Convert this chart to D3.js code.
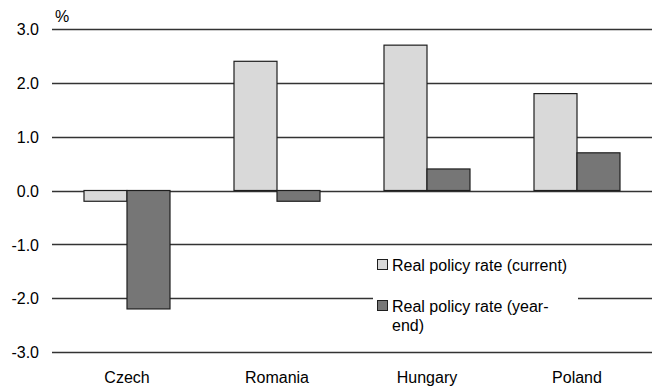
<!DOCTYPE html>
<html>
<head>
<meta charset="utf-8">
<script src="https://cdn.jsdelivr.net/npm/d3@7"></script>
<style>
  html, body { margin: 0; padding: 0; background: #fff; }
  svg { display: block; font-family: "Liberation Sans", Arial, sans-serif; }
</style>
</head>
<body>
<svg id="chart" width="654" height="388"></svg>
<script>
// Real policy rates by country, in percent
const categories = ["Czech", "Romania", "Hungary", "Poland"];
const seriesNames = ["Real policy rate (current)", "Real policy rate (year-end)"];
const currentRate = [-0.2, 2.4, 2.7, 1.8];
const yearEndRate = [-2.2, -0.2, 0.4, 0.7];
const yTicks = [-3, -2, -1, 0, 1, 2, 3];
const fills = ["#d9d9d9", "#767676"];

const FONT = "'Liberation Sans', Arial, sans-serif";
const FS = 16;

const svg = d3.select("#chart");
const margin = { left: 52, right: 2, top: 29, bottom: 36 };
const W = 654, H = 388;

const x = d3.scaleBand().domain(categories).range([margin.left, W - margin.right]).padding(0);
const y = d3.scaleLinear().domain([-3, 3]).range([H - margin.bottom, margin.top]);
const barW = 43;
const xSub = d3.scaleBand().domain([0, 1]).range([-barW, barW]).padding(0);

// Horizontal gridlines
svg.append("g")
  .selectAll("line")
  .data(yTicks)
  .join("line")
  .attr("x1", margin.left).attr("x2", W - margin.right)
  .attr("y1", d => Math.round(y(d)) + 0.5).attr("y2", d => Math.round(y(d)) + 0.5)
  .attr("stroke", "#333").attr("stroke-width", 1.3);

// Y axis labels (plain hyphen for negatives)
const yAxis = d3.axisLeft(y).tickValues(yTicks).tickFormat(d => d.toFixed(1)).tickSize(0).tickPadding(13);
const yg = svg.append("g").attr("transform", `translate(${margin.left},0)`).call(yAxis);
yg.select(".domain").remove();
yg.attr("font-size", FS).attr("font-family", FONT);
yg.selectAll("text").attr("fill", "#000").attr("dy", "0.36em");

// Unit label
svg.append("text").attr("x", 55).attr("y", 22).attr("font-size", FS).text("%");

// Bars
const seriesData = [currentRate, yearEndRate];
const groups = svg.append("g").selectAll("g")
  .data(categories)
  .join("g")
  .attr("transform", d => `translate(${x(d) + x.bandwidth() / 2},0)`);

groups.selectAll("rect")
  .data((c, i) => seriesData.map((s, k) => ({ k, v: s[i] })))
  .join("rect")
  .attr("x", d => xSub(d.k))
  .attr("width", xSub.bandwidth())
  .attr("y", d => y(Math.max(0, d.v)))
  .attr("height", d => Math.abs(y(d.v) - y(0)))
  .attr("fill", d => fills[d.k])
  .attr("stroke", "#1e1e1e").attr("stroke-width", 1.2);

// Category labels
const xAxis = d3.axisBottom(x).tickSize(0).tickPadding(20);
const xg = svg.append("g").attr("transform", `translate(0,${y(-3)})`).call(xAxis);
xg.select(".domain").remove();
xg.attr("font-size", FS).attr("font-family", FONT);
xg.selectAll("text").attr("fill", "#000");

// Legend
const lg = svg.append("g");
lg.append("rect").attr("x", 373).attr("y", 252).attr("width", 205).attr("height", 88).attr("fill", "#fff");
const legendRows = [
  { lines: ["Real policy rate (current)"], y: 271 },
  { lines: ["Real policy rate (year-", "end)"], y: 312 }
];
legendRows.forEach((r, k) => {
  lg.append("rect").attr("x", 377.5).attr("y", r.y - 11.5).attr("width", 10).attr("height", 10)
    .attr("fill", fills[k]).attr("stroke", "#1e1e1e").attr("stroke-width", 1);
  const t = lg.append("text").attr("x", 392).attr("y", r.y).attr("font-size", FS);
  r.lines.forEach((ln, j) => {
    t.append("tspan").attr("x", 392).attr("dy", j === 0 ? 0 : 19).text(ln);
  });
});
</script>
</body>
</html>
